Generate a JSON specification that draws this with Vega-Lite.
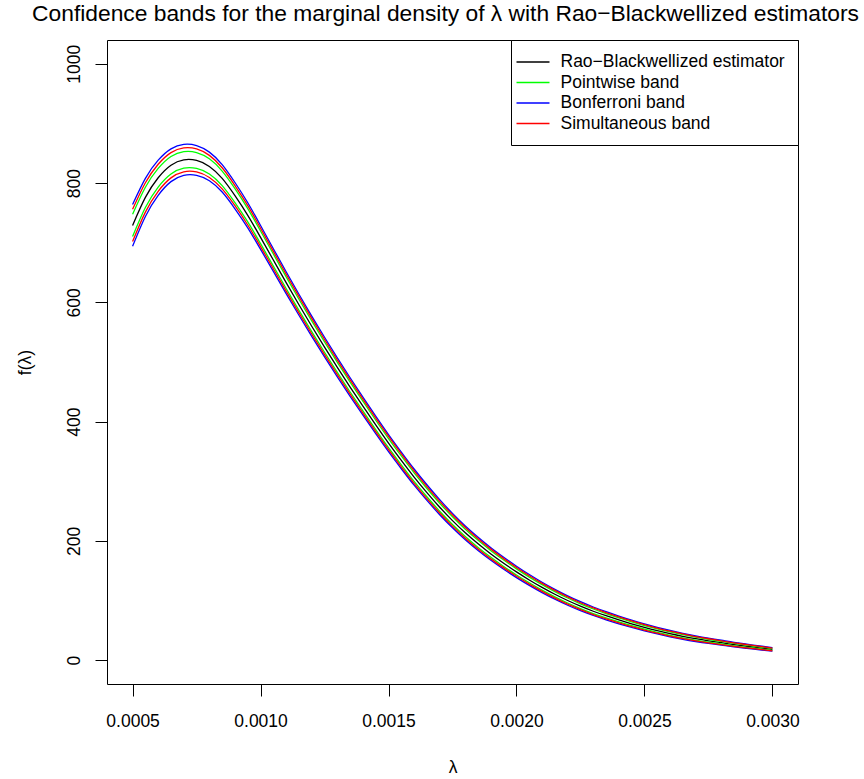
{
  "$schema": "https://vega.github.io/schema/vega-lite/v6.json",
  "width": 691,
  "height": 644,
  "autosize": "none",
  "padding": {"left": 107, "top": 40, "right": 66, "bottom": 95},
  "background": "white",
  "config": {
    "view": {"stroke": "black", "strokeWidth": 1},
    "font": "Liberation Sans",
    "axis": {"grid": false, "domain": false, "tickColor": "black", "tickSize": 12, "tickWidth": 1, "labelColor": "black", "labelFontSize": 17.5, "labelFont": "Liberation Sans", "titleFont": "Liberation Sans", "titleFontSize": 17.5, "titleFontWeight": "normal", "titleColor": "black"},
    "legend": {"orient": "top-right", "offset": 0, "strokeColor": "black", "fillColor": "white", "padding": 13, "symbolType": "M-2,0H2", "symbolSize": 272, "symbolStrokeWidth": 1.3, "labelFontSize": 17.5, "labelFont": "Liberation Sans", "labelColor": "black", "labelOffset": 18.5, "labelLimit": 400, "rowPadding": 2.5, "cornerRadius": 0}
  },
  "title": {"text": "Confidence bands for the marginal density of  λ with Rao−Blackwellized estimators", "fontSize": 22.8, "fontWeight": "normal", "font": "Liberation Sans", "color": "black", "anchor": "middle", "baseline": "alphabetic", "offset": -4, "dx": -7},
  "datasets": {
    "d": [
      {"l": 0.0005, "f": 729, "pl": 710.4, "pu": 747.6, "bl": 694, "bu": 764, "sl": 702, "su": 756},
      {"l": 0.00055, "f": 776, "pl": 759, "pu": 793, "bl": 744, "bu": 808, "sl": 751.4, "su": 800.6},
      {"l": 0.0006, "f": 809, "pl": 793.4, "pu": 824.6, "bl": 779.5, "bu": 838.5, "sl": 786.3, "su": 831.7},
      {"l": 0.00065, "f": 830, "pl": 815.4, "pu": 844.6, "bl": 802.5, "bu": 857.5, "sl": 808.8, "su": 851.2},
      {"l": 0.0007, "f": 839, "pl": 825.2, "pu": 852.8, "bl": 813, "bu": 865, "sl": 819, "su": 859},
      {"l": 0.00075, "f": 838, "pl": 824.7, "pu": 851.3, "bl": 813, "bu": 863, "sl": 818.7, "su": 857.3},
      {"l": 0.0008, "f": 828, "pl": 815.3, "pu": 840.7, "bl": 804, "bu": 852, "sl": 809.5, "su": 846.5},
      {"l": 0.00085, "f": 808, "pl": 795.8, "pu": 820.2, "bl": 785, "bu": 831, "sl": 790.3, "su": 825.7},
      {"l": 0.0009, "f": 779, "pl": 767.3, "pu": 790.7, "bl": 757, "bu": 801, "sl": 762.1, "su": 795.9},
      {"l": 0.00095, "f": 746, "pl": 734.9, "pu": 757.1, "bl": 725, "bu": 767, "sl": 729.8, "su": 762.2},
      {"l": 0.001, "f": 709, "pl": 698.4, "pu": 719.6, "bl": 689, "bu": 729, "sl": 693.6, "su": 724.4},
      {"l": 0.00105, "f": 671, "pl": 660.9, "pu": 681.1, "bl": 652, "bu": 690, "sl": 656.4, "su": 685.6},
      {"l": 0.0011, "f": 633, "pl": 623.3, "pu": 642.7, "bl": 614.7, "bu": 651.3, "sl": 618.9, "su": 647.1},
      {"l": 0.00115, "f": 596, "pl": 586.7, "pu": 605.3, "bl": 578.4, "bu": 613.6, "sl": 582.4, "su": 609.6},
      {"l": 0.0012, "f": 560, "pl": 551, "pu": 569, "bl": 543, "bu": 577, "sl": 546.9, "su": 573.1},
      {"l": 0.00125, "f": 525, "pl": 516.3, "pu": 533.7, "bl": 508.5, "bu": 541.5, "sl": 512.3, "su": 537.7},
      {"l": 0.0013, "f": 491, "pl": 482.5, "pu": 499.5, "bl": 475, "bu": 507, "sl": 478.7, "su": 503.3},
      {"l": 0.00135, "f": 458, "pl": 449.7, "pu": 466.3, "bl": 442.4, "bu": 473.6, "sl": 446, "su": 470},
      {"l": 0.0014, "f": 426, "pl": 417.9, "pu": 434.1, "bl": 410.8, "bu": 441.2, "sl": 414.3, "su": 437.7},
      {"l": 0.00145, "f": 394.5, "pl": 386.7, "pu": 402.3, "bl": 379.7, "bu": 409.3, "sl": 383.1, "su": 405.9},
      {"l": 0.0015, "f": 364, "pl": 356.4, "pu": 371.6, "bl": 349.6, "bu": 378.4, "sl": 352.9, "su": 375.1},
      {"l": 0.00155, "f": 335, "pl": 327.6, "pu": 342.4, "bl": 321, "bu": 349, "sl": 324.2, "su": 345.8},
      {"l": 0.0016, "f": 307, "pl": 299.8, "pu": 314.2, "bl": 293.4, "bu": 320.6, "sl": 296.5, "su": 317.5},
      {"l": 0.00165, "f": 281, "pl": 274.1, "pu": 287.9, "bl": 267.9, "bu": 294.1, "sl": 270.9, "su": 291.1},
      {"l": 0.0017, "f": 256.5, "pl": 249.8, "pu": 263.2, "bl": 243.9, "bu": 269.1, "sl": 246.8, "su": 266.2},
      {"l": 0.00175, "f": 234, "pl": 227.6, "pu": 240.4, "bl": 221.9, "bu": 246.1, "sl": 224.7, "su": 243.3},
      {"l": 0.0018, "f": 213.5, "pl": 207.4, "pu": 219.6, "bl": 201.9, "bu": 225.1, "sl": 204.6, "su": 222.4},
      {"l": 0.00185, "f": 195, "pl": 189.1, "pu": 200.9, "bl": 183.9, "bu": 206.1, "sl": 186.5, "su": 203.5},
      {"l": 0.0019, "f": 178, "pl": 172.4, "pu": 183.6, "bl": 167.4, "bu": 188.6, "sl": 169.8, "su": 186.2},
      {"l": 0.00195, "f": 162.5, "pl": 157.1, "pu": 167.9, "bl": 152.4, "bu": 172.6, "sl": 154.7, "su": 170.3},
      {"l": 0.002, "f": 148, "pl": 142.9, "pu": 153.1, "bl": 138.4, "bu": 157.6, "sl": 140.6, "su": 155.4},
      {"l": 0.00205, "f": 134.5, "pl": 129.7, "pu": 139.3, "bl": 125.4, "bu": 143.6, "sl": 127.5, "su": 141.5},
      {"l": 0.0021, "f": 122, "pl": 117.4, "pu": 126.6, "bl": 113.3, "bu": 130.7, "sl": 115.3, "su": 128.7},
      {"l": 0.00215, "f": 110.5, "pl": 106.1, "pu": 114.9, "bl": 102.2, "bu": 118.8, "sl": 104.1, "su": 116.9},
      {"l": 0.0022, "f": 100, "pl": 95.8, "pu": 104.2, "bl": 92.1, "bu": 107.9, "sl": 93.9, "su": 106.1},
      {"l": 0.00225, "f": 90.5, "pl": 86.5, "pu": 94.5, "bl": 83, "bu": 98, "sl": 84.7, "su": 96.3},
      {"l": 0.0023, "f": 82, "pl": 78.2, "pu": 85.8, "bl": 74.9, "bu": 89.1, "sl": 76.5, "su": 87.5},
      {"l": 0.00235, "f": 74.5, "pl": 70.9, "pu": 78.1, "bl": 67.7, "bu": 81.3, "sl": 69.3, "su": 79.7},
      {"l": 0.0024, "f": 67.5, "pl": 64.1, "pu": 70.9, "bl": 61, "bu": 74, "sl": 62.5, "su": 72.5},
      {"l": 0.00245, "f": 61, "pl": 57.7, "pu": 64.3, "bl": 54.8, "bu": 67.2, "sl": 56.2, "su": 65.8},
      {"l": 0.0025, "f": 55, "pl": 51.9, "pu": 58.1, "bl": 49.1, "bu": 60.9, "sl": 50.5, "su": 59.5},
      {"l": 0.00255, "f": 49.5, "pl": 46.5, "pu": 52.5, "bl": 43.9, "bu": 55.1, "sl": 45.2, "su": 53.8},
      {"l": 0.0026, "f": 44.5, "pl": 41.7, "pu": 47.3, "bl": 39.2, "bu": 49.8, "sl": 40.4, "su": 48.6},
      {"l": 0.00265, "f": 40, "pl": 37.3, "pu": 42.7, "bl": 35, "bu": 45, "sl": 36.1, "su": 43.9},
      {"l": 0.0027, "f": 36, "pl": 33.5, "pu": 38.5, "bl": 31.3, "bu": 40.7, "sl": 32.4, "su": 39.6},
      {"l": 0.00275, "f": 32.5, "pl": 30.2, "pu": 34.8, "bl": 28.1, "bu": 36.9, "sl": 29.1, "su": 35.9},
      {"l": 0.0028, "f": 29.3, "pl": 27.1, "pu": 31.5, "bl": 25.2, "bu": 33.4, "sl": 26.1, "su": 32.5},
      {"l": 0.00285, "f": 26, "pl": 24, "pu": 28, "bl": 22.2, "bu": 29.8, "sl": 23.1, "su": 28.9},
      {"l": 0.0029, "f": 23.3, "pl": 21.4, "pu": 25.2, "bl": 19.8, "bu": 26.8, "sl": 20.6, "su": 26},
      {"l": 0.00295, "f": 20.6, "pl": 18.9, "pu": 22.3, "bl": 17.4, "bu": 23.8, "sl": 18.1, "su": 23.1},
      {"l": 0.003, "f": 18, "pl": 16.4, "pu": 19.6, "bl": 15, "bu": 21, "sl": 15.7, "su": 20.3}
    ]
  },
  "data": {"name": "d"},
  "encoding": {
    "x": {"field": "l", "type": "quantitative", "scale": {"domain": [0.0004, 0.0031], "nice": false, "zero": false},
      "axis": {"values": [0.0005, 0.001, 0.0015, 0.002, 0.0025, 0.003], "format": ".4f", "labelPadding": 16, "title": "λ", "titlePadding": 29}}
  },
  "layer": [
    {
      "mark": {"type": "line", "strokeWidth": 1.3, "interpolate": "natural"},
      "encoding": {
        "y": {"field": "f", "type": "quantitative", "scale": {"domain": [-40, 1040], "nice": false, "zero": false},
          "axis": {"values": [0, 200, 400, 600, 800, 1000], "format": "d", "labelAngle": 270, "labelAlign": "center", "labelBaseline": "bottom", "labelPadding": 12, "title": "f(λ)", "titlePadding": 31}},
        "color": {"datum": "Rao−Blackwellized estimator", "type": "nominal",
          "scale": {"domain": ["Rao−Blackwellized estimator", "Pointwise band", "Bonferroni band", "Simultaneous band"], "range": ["#000000", "#00FF00", "#0000FF", "#FF0000"]},
          "legend": {"title": null}}
      }
    },
    {
      "transform": [{"fold": ["pl", "pu"], "as": ["k", "v"]}],
      "mark": {"type": "line", "strokeWidth": 1.3, "interpolate": "natural"},
      "encoding": {
        "y": {"field": "v", "type": "quantitative"},
        "detail": {"field": "k", "type": "nominal"},
        "color": {"datum": "Pointwise band", "type": "nominal"}
      }
    },
    {
      "transform": [{"fold": ["bl", "bu"], "as": ["k", "v"]}],
      "mark": {"type": "line", "strokeWidth": 1.3, "interpolate": "natural"},
      "encoding": {
        "y": {"field": "v", "type": "quantitative"},
        "detail": {"field": "k", "type": "nominal"},
        "color": {"datum": "Bonferroni band", "type": "nominal"}
      }
    },
    {
      "transform": [{"fold": ["sl", "su"], "as": ["k", "v"]}],
      "mark": {"type": "line", "strokeWidth": 1.3, "interpolate": "natural"},
      "encoding": {
        "y": {"field": "v", "type": "quantitative"},
        "detail": {"field": "k", "type": "nominal"},
        "color": {"datum": "Simultaneous band", "type": "nominal"}
      }
    }
  ]
}
